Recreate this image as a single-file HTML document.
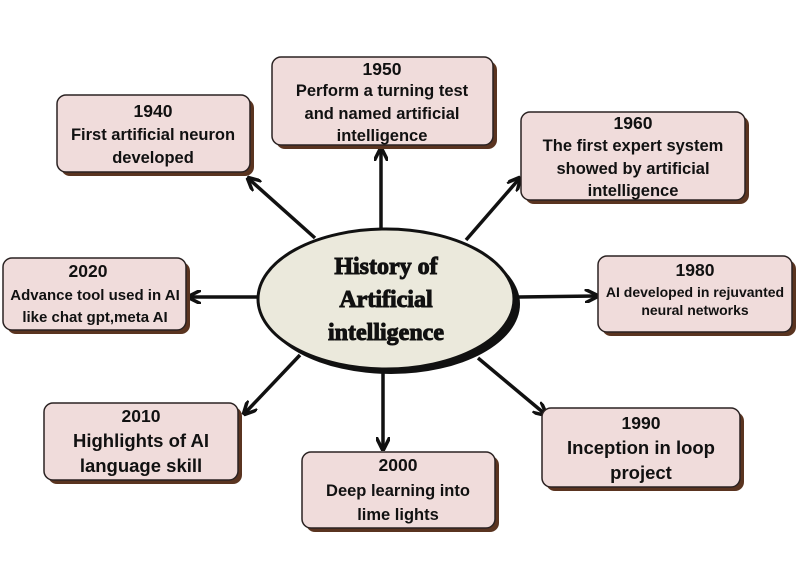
<!DOCTYPE html>
<html><head><style>html,body{margin:0;padding:0;background:#fff}</style></head><body>
<svg width="796" height="563" viewBox="0 0 796 563" xmlns="http://www.w3.org/2000/svg">
<defs>
<marker id="a" viewBox="0 0 10 10" refX="8" refY="5" markerWidth="4" markerHeight="4" orient="auto"><path d="M0,0 L10,5 L0,10" fill="none" stroke="#111" stroke-width="2.5"/></marker>
</defs>
<g stroke="#111" stroke-width="3.5" marker-end="url(#a)">
<line x1="315" y1="238" x2="249" y2="179"/>
<line x1="381" y1="228" x2="381" y2="150"/>
<line x1="466" y1="240" x2="519" y2="179"/>
<line x1="257" y1="297" x2="190" y2="297"/>
<line x1="519" y1="297" x2="596" y2="296"/>
<line x1="300" y1="355" x2="245" y2="413"/>
<line x1="383" y1="372" x2="383" y2="448"/>
<line x1="478" y1="358" x2="545" y2="414"/>
</g>
<ellipse cx="391" cy="304" rx="129" ry="70" fill="#111"/>
<ellipse cx="386" cy="299" rx="128" ry="70" fill="#ebe9dc" stroke="#111" stroke-width="3"/>
<g font-family="Liberation Serif, serif" font-weight="bold" font-size="24" text-anchor="middle" fill="#111" stroke="#111" stroke-width="1">
<text x="386" y="274">History of</text><text x="386" y="307">Artificial</text><text x="386" y="340">intelligence</text>
</g>
<g fill="#5a3420">
<rect x="61" y="99" width="193" height="77" rx="9"/>
<rect x="276" y="61" width="221" height="88" rx="9"/>
<rect x="525" y="116" width="224" height="88" rx="9"/>
<rect x="7" y="262" width="183" height="72" rx="9"/>
<rect x="602" y="260" width="194" height="76" rx="9"/>
<rect x="48" y="407" width="194" height="77" rx="9"/>
<rect x="306" y="456" width="193" height="76" rx="9"/>
<rect x="546" y="412" width="198" height="79" rx="9"/>
</g>
<g fill="#f0dcdb" stroke="#2a2222" stroke-width="1.5">
<rect x="57" y="95" width="193" height="77" rx="9"/>
<rect x="272" y="57" width="221" height="88" rx="9"/>
<rect x="521" y="112" width="224" height="88" rx="9"/>
<rect x="3" y="258" width="183" height="72" rx="9"/>
<rect x="598" y="256" width="194" height="76" rx="9"/>
<rect x="44" y="403" width="194" height="77" rx="9"/>
<rect x="302" y="452" width="193" height="76" rx="9"/>
<rect x="542" y="408" width="198" height="79" rx="9"/>
</g>
<g font-family="Liberation Sans, sans-serif" font-weight="bold" text-anchor="middle" fill="#111" font-size="16.5">
<text x="153" y="117" font-size="17.5">1940</text><text x="153" y="140">First artificial neuron</text><text x="153" y="163">developed</text>
<text x="382" y="75" font-size="17.5">1950</text><text x="382" y="96">Perform a turning test</text><text x="382" y="119">and named artificial</text><text x="382" y="141">intelligence</text>
<text x="633" y="129" font-size="17.5">1960</text><text x="633" y="151">The first expert system</text><text x="633" y="174">showed by artificial</text><text x="633" y="196">intelligence</text>
<text x="88" y="277" font-size="17.5">2020</text><text x="95" y="300" font-size="15">Advance tool used in AI</text><text x="95" y="322" font-size="15">like chat gpt,meta AI</text>
<text x="695" y="276" font-size="17.5">1980</text><text x="695" y="297" font-size="14">AI developed in rejuvanted</text><text x="695" y="315" font-size="14">neural networks</text>
<text x="141" y="422" font-size="17.5">2010</text><text x="141" y="447" font-size="18.5">Highlights of AI</text><text x="141" y="472" font-size="18.5">language skill</text>
<text x="398" y="471" font-size="17.5">2000</text><text x="398" y="496">Deep learning into</text><text x="398" y="520">lime lights</text>
<text x="641" y="429" font-size="17.5">1990</text><text x="641" y="454" font-size="18.5">Inception in loop</text><text x="641" y="479" font-size="18.5">project</text>
</g>
</svg>
</body></html>
